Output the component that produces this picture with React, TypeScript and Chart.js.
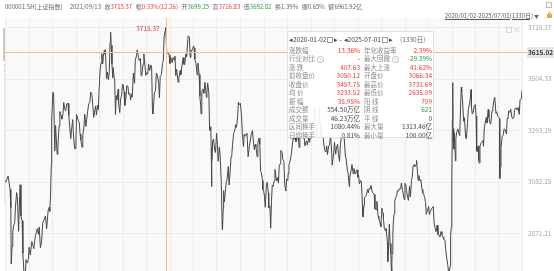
import { useEffect, useRef } from "react";
import { Chart, registerables } from "chart.js";
Chart.register(...registerables);

// ---- market calendar (holiday closures, weekdays) ----
const holidayRanges: [string, string][] = [
  ["2020-01-01", "2020-01-01"], ["2020-01-24", "2020-01-31"], ["2020-04-06", "2020-04-06"], ["2020-05-01", "2020-05-05"], ["2020-06-25", "2020-06-26"], ["2020-10-01", "2020-10-08"],
  ["2021-01-01", "2021-01-01"], ["2021-02-11", "2021-02-17"], ["2021-04-05", "2021-04-05"], ["2021-05-03", "2021-05-05"], ["2021-06-14", "2021-06-14"], ["2021-09-20", "2021-09-21"], ["2021-10-01", "2021-10-07"],
  ["2022-01-03", "2022-01-03"], ["2022-01-31", "2022-02-04"], ["2022-04-04", "2022-04-05"], ["2022-05-02", "2022-05-04"], ["2022-06-03", "2022-06-03"], ["2022-09-12", "2022-09-12"], ["2022-10-03", "2022-10-07"],
  ["2023-01-02", "2023-01-02"], ["2023-01-23", "2023-01-27"], ["2023-04-05", "2023-04-05"], ["2023-05-01", "2023-05-03"], ["2023-06-22", "2023-06-23"], ["2023-09-29", "2023-10-06"],
  ["2024-01-01", "2024-01-01"], ["2024-02-09", "2024-02-16"], ["2024-04-04", "2024-04-05"], ["2024-05-01", "2024-05-03"], ["2024-06-10", "2024-06-10"], ["2024-09-16", "2024-09-17"], ["2024-10-01", "2024-10-07"],
  ["2025-01-01", "2025-01-01"], ["2025-01-28", "2025-02-04"], ["2025-04-04", "2025-04-04"], ["2025-05-01", "2025-05-05"], ["2025-06-02", "2025-06-02"],
];
const rangeStart = "2020-01-02";
const rangeEnd = "2025-07-01";

// ---- closes (SSE Composite, 000001.SH) ----
const dates2020 = ["01-02","01-06","01-09","01-14","01-17","01-21","01-23","02-03","02-05","02-07","02-11","02-14","02-18","02-21","02-25","02-28","03-03","03-05","03-09","03-12","03-16","03-19","03-23","03-26","03-31","04-03","04-08","04-13","04-17","04-21","04-24","04-30","05-07","05-12","05-15","05-19","05-22","05-27","06-01","06-05","06-10","06-15","06-19","06-24","06-29","07-01","07-03","07-06","07-09","07-13","07-16","07-20","07-24","07-28","07-31","08-04","08-07","08-11","08-14","08-18","08-21","08-25","08-28","09-02","09-04","09-08","09-11","09-15","09-18","09-22","09-25","09-30","10-12","10-16","10-21","10-23","10-27","10-30","11-03","11-06","11-10","11-13","11-17","11-20","11-24","11-27","12-01","12-04","12-08","12-11","12-15","12-18","12-22","12-25","12-29","12-31"];
const close2020 = [3085,3083,3094,3106,3075,3052,2977,2746,2818,2876,2902,2917,2984,3039,3013,2880,2992,3071,2943,2923,2790,2702,2660,2764,2750,2764,2815,2783,2838,2827,2809,2860,2871,2891,2868,2898,2813,2837,2915,2930,2943,2890,2967,2979,2962,3025,3152,3332,3450,3443,3210,3314,3196,3228,3310,3371,3354,3340,3360,3408,3380,3373,3403,3404,3355,3316,3260,3295,3338,3275,3219,3218,3359,3336,3325,3278,3254,3225,3272,3312,3360,3310,3339,3377,3402,3408,3451,3444,3410,3347,3367,3394,3357,3397,3379,3473];

const dates2021 = ["01-04","01-06","01-08","01-12","01-14","01-18","01-20","01-22","01-25","01-28","02-01","02-04","02-08","02-10","02-18","02-19","02-22","02-24","02-26","03-01","03-04","03-05","03-09","03-11","03-15","03-18","03-19","03-24","03-26","03-31","04-02","04-07","04-09","04-13","04-16","04-20","04-23","04-27","04-30","05-07","05-11","05-13","05-18","05-21","05-25","05-28","06-01","06-04","06-08","06-11","06-16","06-18","06-23","06-25","06-29","07-02","07-06","07-09","07-13","07-16","07-21","07-23","07-27","07-28","07-30","08-03","08-06","08-10","08-13","08-18","08-20","08-24","08-27","09-01","09-03","09-07","09-10","09-13","09-16","09-17","09-24","09-28","09-30","10-11","10-15","10-19","10-22","10-26","10-28","11-01","11-05","11-09","11-12","11-16","11-19","11-24","11-26","11-30","12-03","12-07","12-10","12-13","12-16","12-20","12-22","12-24","12-28","12-31"];
const close2021 = [3502,3550,3570,3608,3566,3596,3621,3607,3625,3505,3533,3501,3532,3655,3675,3696,3642,3564,3509,3551,3503,3502,3359,3436,3419,3463,3405,3367,3418,3441,3484,3479,3451,3396,3427,3477,3474,3442,3447,3419,3441,3430,3529,3487,3581,3600,3624,3592,3580,3589,3518,3525,3566,3607,3574,3519,3530,3525,3566,3539,3562,3550,3382,3361,3397,3447,3458,3529,3517,3485,3427,3515,3522,3568,3581,3677,3703,3715.37,3607,3613,3613,3602,3568,3591,3572,3593,3582,3598,3518,3545,3491,3507,3539,3522,3560,3592,3564,3564,3607,3595,3666,3681,3675,3593,3622,3618,3630,3640];

const dates2022 = ["01-04","01-06","01-07","01-11","01-14","01-18","01-21","01-25","01-27","01-28","02-08","02-11","02-15","02-18","02-22","02-24","02-25","03-01","03-04","03-08","03-10","03-11","03-14","03-15","03-16","03-18","03-22","03-25","03-29","04-01","04-07","04-11","04-14","04-18","04-21","04-25","04-26","04-28","04-29","05-06","05-10","05-13","05-17","05-20","05-24","05-27","05-31","06-02","06-07","06-10","06-14","06-17","06-21","06-24","06-28","06-30","07-05","07-08","07-12","07-15","07-19","07-22","07-26","07-28","07-29","08-02","08-05","08-09","08-12","08-17","08-19","08-24","08-26","08-30","09-02","09-06","09-09","09-14","09-16","09-20","09-23","09-26","09-28","09-30","10-11","10-14","10-18","10-21","10-24","10-27","10-31","11-02","11-04","11-08","11-11","11-15","11-18","11-22","11-25","11-28","11-30","12-02","12-06","12-09","12-13","12-16","12-20","12-23","12-27","12-30"];
const close2022 = [3632,3586,3579,3567,3521,3569,3522,3433,3394,3361,3453,3462,3446,3491,3457,3429,3451,3488,3447,3294,3296,3309,3223,3064,3170,3251,3259,3212,3203,3282,3236,3167,3225,3195,3079,2928,2886,2975,3047,3001,3035,3084,3094,3146,3070,3130,3186,3195,3236,3285,3288,3317,3306,3349,3409,3399,3405,3356,3281,3228,3279,3270,3277,3282,3253,3186,3227,3247,3277,3293,3258,3215,3236,3227,3186,3243,3262,3237,3126,3122,3088,3051,3045,3024,2979,3071,3081,3038,2977,2983,2893,3003,3070,3064,3087,3134,3097,3088,3101,3078,3151,3156,3212,3206,3176,3167,3073,3045,3095,3089];

const dates2023 = ["01-03","01-05","01-06","01-10","01-13","01-17","01-20","01-31","02-03","02-07","02-10","02-14","02-17","02-21","02-24","02-28","03-03","03-07","03-10","03-14","03-17","03-20","03-24","03-28","03-31","04-04","04-07","04-11","04-14","04-18","04-21","04-25","04-28","05-05","05-08","05-10","05-12","05-16","05-19","05-23","05-26","05-31","06-02","06-06","06-09","06-13","06-16","06-21","06-26","06-30","07-04","07-07","07-11","07-14","07-18","07-21","07-25","07-28","08-01","08-04","08-08","08-11","08-15","08-18","08-22","08-25","08-28","09-01","09-05","09-08","09-12","09-15","09-19","09-22","09-26","09-28","10-10","10-13","10-17","10-20","10-23","10-26","10-27","11-01","11-03","11-08","11-10","11-14","11-17","11-21","11-24","11-28","12-01","12-05","12-08","12-12","12-15","12-19","12-22","12-26","12-29"];
const close2023 = [3117,3155,3157,3170,3195,3225,3265,3256,3263,3248,3260,3293,3224,3306,3267,3280,3328,3285,3230,3246,3250,3234,3265,3245,3273,3312,3327,3315,3338,3393,3301,3264,3323,3350,3395,3319,3272,3290,3283,3246,3212,3205,3230,3195,3231,3234,3273,3197,3151,3202,3245,3196,3222,3237,3198,3167,3231,3275,3291,3288,3260,3189,3176,3131,3120,3064,3098,3133,3154,3116,3137,3117,3125,3132,3102,3110,3075,3088,3083,2983,2939,2988,3017,3023,3030,3052,3038,3056,3054,3068,3041,3038,3031,2972,2969,3003,2942,2932,2914,2899,2975];

const dates2024 = ["01-02","01-04","01-05","01-09","01-12","01-16","01-19","01-22","01-24","01-26","01-30","02-01","02-02","02-05","02-06","02-08","02-19","02-21","02-23","02-27","03-01","03-05","03-08","03-12","03-15","03-19","03-22","03-26","03-28","04-01","04-03","04-09","04-12","04-16","04-19","04-23","04-26","04-30","05-07","05-10","05-14","05-17","05-20","05-24","05-28","05-31","06-04","06-07","06-12","06-14","06-19","06-21","06-25","06-28","07-03","07-05","07-09","07-12","07-16","07-19","07-23","07-26","07-30","08-02","08-06","08-09","08-13","08-16","08-20","08-23","08-27","08-30","09-03","09-06","09-10","09-13","09-18","09-20","09-23","09-24","09-25","09-26","09-27","09-30","10-08","10-09","10-10","10-11","10-14","10-17","10-18","10-22","10-25","10-29","11-01","11-05","11-07","11-08","11-12","11-15","11-19","11-22","11-26","11-29","12-03","12-06","12-10","12-12","12-13","12-17","12-20","12-24","12-27","12-31"];
const close2024 = [2962,2954,2929,2893,2882,2893,2832,2756,2820,2910,2830,2788,2730,2702,2789,2866,2910,2952,3004,3016,3027,3048,3046,3055,3054,3078,3048,3031,3011,3077,3074,3048,3019,3007,3065,3021,3088,3105,3148,3154,3145,3154,3171,3089,3109,3087,3091,3051,3037,3033,3018,2998,2950,2967,2982,2949,2960,2971,2976,2982,2915,2891,2879,2905,2867,2862,2858,2879,2867,2855,2848,2842,2802,2765,2744,2704,2717,2736,2748,2863,2896,3000,3087,3336,3489,3258,3301,3217,3284,3169,3261,3285,3300,3286,3272,3387,3471,3452,3421,3331,3346,3267,3259,3326,3379,3404,3422,3461,3392,3361,3368,3393,3400,3352];

const dates2025 = ["01-02","01-03","01-06","01-08","01-10","01-13","01-15","01-17","01-21","01-24","01-27","02-05","02-07","02-11","02-14","02-18","02-21","02-25","02-28","03-04","03-07","03-11","03-14","03-18","03-21","03-25","03-28","04-01","04-03","04-07","04-08","04-10","04-11","04-15","04-18","04-22","04-25","04-30","05-07","05-09","05-13","05-16","05-20","05-23","05-27","05-30","06-04","06-06","06-10","06-13","06-17","06-20","06-24","06-27","06-30","07-01"];
const close2025 = [3262,3211,3206,3230,3169,3160,3228,3241,3243,3252,3250,3229,3303,3319,3346,3324,3379,3346,3321,3325,3373,3385,3419,3429,3364,3370,3351,3348,3342,3097,3145,3223,3238,3267,3277,3300,3296,3279,3343,3342,3374,3367,3381,3348,3341,3347,3377,3385,3385,3377,3388,3359,3420,3424,3444,3457.75];

const yTicks = [2871.21, 3082.25, 3293.29, 3504.33, 3715.37];
const yMin = 2717.6;
const yMax = 3754.3;
const cursorDate = "2021-09-13";
const cursorValue = 3615.02;
const peakLabel = "3715.37";

const headerItems: { label: string; value: string; color: string; gap: number }[] = [
  { label: "000001.SH[上证指数]", value: "", color: "#666", gap: 7 },
  { label: "2021/09/13", value: "", color: "#666", gap: 3.5 },
  { label: "收", value: "3715.37", color: "#e5413f", gap: 3.5 },
  { label: "幅", value: "0.33%(12.26)", color: "#e5413f", gap: 3.5 },
  { label: "开", value: "3699.25", color: "#2f9e3f", gap: 3.5 },
  { label: "高", value: "3716.83", color: "#e5413f", gap: 3.5 },
  { label: "低", value: "3692.82", color: "#2f9e3f", gap: 3.5 },
  { label: "换", value: "1.39%", color: "#666", gap: 3.5 },
  { label: "振", value: "0.65%", color: "#666", gap: 3.5 },
  { label: "额", value: "6961.92亿", color: "#666", gap: 0 },
];

const leftLabels = ["涨跌幅", "行业对比", "涨 跌", "前收盘价", "收盘价", "均 价", "振 幅", "成交额", "成交量", "区间换手", "日均换手"];
const leftValues = ["13.36%", "-", "407.63", "3050.12", "3457.75", "3233.52", "35.95%", "554.50万亿", "46.23万亿", "1080.44%", "0.81%"];
const leftTones = ["r", "k", "r", "r", "r", "r", "r", "k", "k", "k", "k"];
const rightLabels = ["年化收益率", "最大回撤", "最大上涨", "开盘价", "最高价", "最低价", "阳 线", "阴 线", "平 线", "最大量", "最小量"];
const rightValues = ["2.39%", "-29.39%", "41.62%", "3066.34", "3731.69", "2635.09", "709", "621", "0", "1313.46亿", "100.00亿"];
const rightTones = ["r", "g", "r", "r", "r", "r", "r", "g", "k", "k", "k"];
const infoIcon = new Set(["行业对比", "最大回撤"]);

const RED = "#e5413f";
const GREEN = "#2f9e3f";
const toneColor = (t: string) => (t === "r" ? RED : t === "g" ? GREEN : "#444");
const FONT = "'Noto Sans CJK SC', 'Noto Sans', sans-serif";

function iso(d: Date) {
  return d.toISOString().slice(0, 10);
}
function buildCalendar() {
  const closed = new Set<string>();
  for (const [a, b] of holidayRanges) {
    let d = new Date(a + "T00:00:00Z");
    const e = new Date(b + "T00:00:00Z");
    while (d <= e) {
      closed.add(iso(d));
      d = new Date(d.getTime() + 86400000);
    }
  }
  const map = new Map<string, number>();
  let n = 0;
  let d = new Date(rangeStart + "T00:00:00Z");
  const end = new Date(rangeEnd + "T00:00:00Z");
  while (d <= end) {
    const wd = d.getUTCDay();
    const s = iso(d);
    if (wd !== 0 && wd !== 6 && !closed.has(s)) {
      map.set(s, n);
      n++;
    }
    d = new Date(d.getTime() + 86400000);
  }
  return { map, last: n - 1 };
}
function indexOf(map: Map<string, number>, s: string) {
  let d = new Date(s + "T00:00:00Z");
  for (let k = 0; k < 12; k++) {
    const v = map.get(iso(d));
    if (v !== undefined) return v;
    d = new Date(d.getTime() + 86400000);
  }
  return 0;
}

const Info = () => (
  <span
    style={{
      display: "inline-block",
      width: 5,
      height: 5,
      lineHeight: "5px",
      border: "0.6px solid #bbb",
      borderRadius: "50%",
      fontSize: 4,
      textAlign: "center",
      color: "#aaa",
      marginLeft: 2,
      verticalAlign: "middle",
    }}
  >
    ?
  </span>
);

export default function App() {
  const ref = useRef<HTMLCanvasElement | null>(null);

  useEffect(() => {
    const canvas = ref.current;
    if (!canvas) return;
    const { map, last } = buildCalendar();
    const years: [string, string[], number[]][] = [
      ["2020", dates2020, close2020],
      ["2021", dates2021, close2021],
      ["2022", dates2022, close2022],
      ["2023", dates2023, close2023],
      ["2024", dates2024, close2024],
      ["2025", dates2025, close2025],
    ];
    const pts: { x: number; y: number }[] = [];
    for (const [yr, ds, cs] of years) {
      ds.forEach((md, i) => pts.push({ x: indexOf(map, `${yr}-${md}`), y: cs[i] }));
    }
    const cursorX = indexOf(map, cursorDate);
    const peak = pts.reduce((a, b) => (b.y > a.y ? b : a), pts[0]);

    const overlay = {
      id: "overlay",
      beforeDraw(chart: any) {
        const { ctx, chartArea: ca, scales } = chart;
        ctx.save();
        ctx.fillStyle = "#ffffff";
        ctx.fillRect(0, 0, chart.width, chart.height);
        ctx.fillStyle = "#f9f9f9";
        ctx.fillRect(ca.left, ca.top, ca.right - ca.left, ca.bottom - ca.top);
        // vertical grid
        ctx.strokeStyle = "#ececec";
        ctx.lineWidth = 1;
        ctx.beginPath();
        for (let k = 0; k <= 22; k++) {
          const px = Math.round(scales.x.getPixelForValue((k * last) / 22)) + 0.5;
          ctx.moveTo(px, ca.top);
          ctx.lineTo(px, ca.bottom);
        }
        ctx.stroke();
        ctx.restore();
      },
      afterDatasetsDraw(chart: any) {
        const { ctx, chartArea: ca, scales } = chart;
        const xs = scales.x;
        const ys = scales.y;
        const cx = Math.round(xs.getPixelForValue(cursorX)) + 0.5;
        const cy = Math.round(ys.getPixelForValue(cursorValue)) + 0.5;
        ctx.save();
        ctx.strokeStyle = "#f6bd84";
        ctx.lineWidth = 1;
        ctx.beginPath();
        ctx.moveTo(cx, ca.top);
        ctx.lineTo(cx, ca.bottom);
        ctx.moveTo(ca.left, cy);
        ctx.lineTo(ca.right + 5, cy);
        ctx.stroke();
        // cursor value tag on axis
        ctx.fillStyle = "#e6e6e6";
        ctx.fillRect(ca.right + 5, cy - 5.5, chart.width - ca.right - 5, 11);
        ctx.fillStyle = "#333";
        ctx.font = `bold 6.5px ${FONT}`;
        ctx.textBaseline = "middle";
        ctx.textAlign = "left";
        ctx.fillText(cursorValue.toFixed(2), ca.right + 6, cy);
        // peak label
        const px = xs.getPixelForValue(peak.x);
        const py = ys.getPixelForValue(peak.y);
        ctx.fillStyle = RED;
        ctx.font = `6.5px ${FONT}`;
        ctx.textAlign = "right";
        ctx.fillText(peakLabel, px - 6, py + 1);
        // small window icons at top-right of plot
        ctx.strokeStyle = "#cfcfcf";
        ctx.lineWidth = 0.8;
        ctx.strokeRect(ca.right - 15.5, ca.top + 9.5, 5, 5);
        ctx.beginPath();
        ctx.moveTo(ca.right - 8, ca.top + 9.5);
        ctx.lineTo(ca.right - 3, ca.top + 14.5);
        ctx.moveTo(ca.right - 3, ca.top + 9.5);
        ctx.lineTo(ca.right - 8, ca.top + 14.5);
        ctx.stroke();
        ctx.restore();
      },
    };

    const chart = new Chart(canvas, {
      type: "line",
      data: {
        datasets: [
          {
            data: pts,
            borderColor: "#474747",
            borderWidth: 1,
            pointRadius: 0,
            tension: 0,
          },
        ],
      },
      options: {
        animation: false,
        responsive: false,
        devicePixelRatio: 1,
        layout: { padding: { left: 5, top: 18, right: 0, bottom: 0 } },
        plugins: { legend: { display: false }, tooltip: { enabled: false } },
        scales: {
          x: {
            type: "linear",
            display: false,
            min: 0,
            max: last,
          },
          y: {
            position: "right",
            min: yMin,
            max: yMax,
            border: { display: false },
            grid: { color: "#ececec", drawTicks: false },
            ticks: {
              autoSkip: false,
              padding: 6,
              color: "#a8a8a8",
              font: { size: 6.5, family: FONT },
              callback: (v: any) => Number(v).toFixed(2),
            },
            afterBuildTicks: (s: any) => {
              s.ticks = yTicks.map((v) => ({ value: v }));
            },
            afterFit: (s: any) => {
              s.width = 32;
              s.paddingTop = 0;
              s.paddingBottom = 0;
            },
          },
        },
      },
      plugins: [overlay],
    } as any);
    return () => chart.destroy();
  }, []);

  const txt: React.CSSProperties = {
    position: "absolute",
    whiteSpace: "nowrap",
    fontFamily: FONT,
    fontSize: 6.5,
    lineHeight: "9px",
  };

  return (
    <div style={{ position: "absolute", left: 0, top: 0, width: 554, height: 271, overflow: "hidden", background: "#fff" }}>
      <canvas ref={ref} width={554} height={271} style={{ position: "absolute", left: 0, top: 0, width: 554, height: 271 }} />
      {/* header line */}
      <div style={{ ...txt, left: 5, top: 1.5, fontSize: 6, color: "#666", display: "flex" }}>
        {headerItems.map((h, i) => (
          <span key={i} style={{ marginRight: h.gap }}>
            {h.label}
            {h.value && <span style={{ color: h.color }}>{h.value}</span>}
          </span>
        ))}
      </div>
      <span style={{ ...txt, right: 21, top: 10.5, fontSize: 6, color: "#555", textDecoration: "underline" }}>
        2020/01/02-2025/07/01(1330日)
      </span>
      <span style={{ ...txt, left: 534, top: 10.5, color: "#666", fontSize: 5 }}>▼</span>
      <div style={{ position: "absolute", left: 546, top: 2, width: 6, height: 6, border: "0.8px solid #bbb", boxSizing: "border-box" }} />
      <div style={{ position: "absolute", left: 547, top: 14, width: 5, height: 4, background: "#f2a33a", borderRadius: 1 }} />
      <div style={{ position: "absolute", left: 548, top: 11.5, width: 3, height: 3, border: "0.8px solid #f2a33a", borderBottom: "none", borderRadius: "2px 2px 0 0", boxSizing: "border-box" }} />
      {/* left scrollbar / border */}
      <div style={{ position: "absolute", left: 3, top: 28, width: 2, height: 33, background: "#c8c8c8" }} />
      <div style={{ position: "absolute", left: 4, top: 64, width: 0, height: 140, borderLeft: "1px dotted #b9cfe8" }} />
      {/* info panel */}
      <div
        style={{
          position: "absolute",
          left: 287,
          top: 31,
          width: 147,
          height: 107,
          background: "rgba(255,255,255,0.93)",
          border: "1px solid #e2e2e2",
          boxSizing: "border-box",
        }}
      >
        <span style={{ ...txt, left: 1, top: 3, color: "#444" }}>
          ◂2020-01-02
          <span style={{ display: "inline-block", width: 4, height: 4, border: "0.6px solid #999", margin: "0 1px", verticalAlign: "middle" }} />
          ▸ - ◂2025-07-01
          <span style={{ display: "inline-block", width: 4, height: 4, border: "0.6px solid #999", margin: "0 1px", verticalAlign: "middle" }} />
          ▸
        </span>
        <span style={{ ...txt, left: 112, top: 3, color: "#666" }}>(1330日)</span>
        {leftLabels.map((l, i) => (
          <span key={"ll" + i} style={{ ...txt, left: 1, top: 14 + 8.45 * i, color: "#8a8a8a" }}>
            {l}
            {infoIcon.has(l) && <Info />}
          </span>
        ))}
        {leftValues.map((v, i) => (
          <span key={"lv" + i} style={{ ...txt, left: 0, width: 72, textAlign: "right", top: 14 + 8.45 * i, color: toneColor(leftTones[i]) }}>
            {v}
          </span>
        ))}
        {rightLabels.map((l, i) => (
          <span key={"rl" + i} style={{ ...txt, left: 76, top: 14 + 8.45 * i, color: "#8a8a8a" }}>
            {l}
            {infoIcon.has(l) && <Info />}
          </span>
        ))}
        {rightValues.map((v, i) => (
          <span key={"rv" + i} style={{ ...txt, left: 0, width: 144, textAlign: "right", top: 14 + 8.45 * i, color: toneColor(rightTones[i]) }}>
            {v}
          </span>
        ))}
      </div>
    </div>
  );
}
